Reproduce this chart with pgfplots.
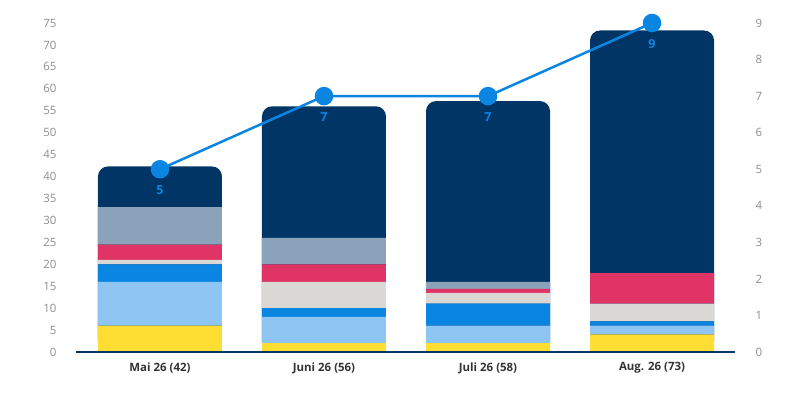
\documentclass[border=0pt]{standalone}
\usepackage{pgfplots}
\pgfplotsset{compat=1.18}
\usepackage{fontspec}
\setmainfont{Open Sans}
\definecolor{navy}{HTML}{003566}
\definecolor{grayblue}{HTML}{8AA2BA}
\definecolor{pinkc}{HTML}{E03366}
\definecolor{beige}{HTML}{D9D8D4}
\definecolor{bluec}{HTML}{0A85E2}
\definecolor{lightblue}{HTML}{8EC5F2}
\definecolor{yellowc}{HTML}{FFDE33}
\definecolor{ticktext}{HTML}{8C8C8C}
\definecolor{labeltext}{HTML}{333333}
\pgfplotsset{
  common/.style={
    at={(76bp,48bp)}, anchor=south west,
    scale only axis, width=659bp, height=329bp,
    xmin=-0.512, xmax=3.506,
    clip=false,
    /pgf/number format/assume math mode=true,
  }
}
\begin{document}
\begin{tikzpicture}[x=1bp,y=1bp]
\path[use as bounding box] (0,0) rectangle (800,400);
% dark full bars with rounded top
\begin{axis}[common,
  ymin=0, ymax=75,
  ybar, bar width=124bp,
  axis x line*=bottom, axis y line*=left,
  x axis line style={draw=none}, y axis line style={draw=none},
  xtick={0,1,2,3},
  xticklabels={Mai 26 (42), Juni 26 (56), Juli 26 (58), Aug. 26 (73)},
  xticklabel style={font=\fontsize{11.5}{13}\selectfont\bfseries, text=labeltext, yshift=-7bp},
  ytick={0,5,...,75},
  yticklabel style={font=\fontsize{11.5}{13}\selectfont, text=ticktext, xshift=-16bp},
  major tick length=0pt,
]
\addplot[fill=navy, draw=none, rounded corners=10bp] coordinates {(0,42.3) (1,56) (2,57.2) (3,73.3)};
\end{axis}
% stacked segments
\begin{axis}[common,
  ymin=0, ymax=75,
  ybar stacked, bar width=124bp,
  hide y axis,
  axis x line=bottom, axis on top,
  x axis line style={draw=navy, line width=1.5bp, -},
  xtick=\empty,
]
\addplot[fill=yellowc, draw=none] coordinates {(0,6) (1,2) (2,2) (3,4)};
\addplot[fill=lightblue, draw=none] coordinates {(0,10) (1,6) (2,4) (3,2)};
\addplot[fill=bluec, draw=none] coordinates {(0,4) (1,2) (2,5) (3,1)};
\addplot[fill=beige, draw=none] coordinates {(0,1) (1,6) (2,2.5) (3,4)};
\addplot[fill=pinkc, draw=none] coordinates {(0,3.5) (1,4) (2,0.9) (3,7)};
\addplot[fill=grayblue, draw=none] coordinates {(0,8.5) (1,6) (2,1.6) (3,0)};
\end{axis}
% line on right axis
\begin{axis}[common,
  ymin=0, ymax=9,
  hide x axis,
  axis y line*=right,
  y axis line style={draw=none},
  ytick={0,1,...,9},
  yticklabel style={font=\fontsize{11.5}{13}\selectfont, text=ticktext, xshift=17bp},
  major tick length=0pt,
]
\addplot[color=bluec, line width=2.5bp, mark=*, mark size=8bp,
  mark options={fill=bluec, draw=bluec},
  nodes near coords,
  every node near coord/.append style={font=\fontsize{12.5}{14}\selectfont\bfseries, text=bluec, anchor=center, yshift=-21bp},
] coordinates {(0,5) (1,7) (2,7) (3,9)};
\end{axis}
\end{tikzpicture}
\end{document}
